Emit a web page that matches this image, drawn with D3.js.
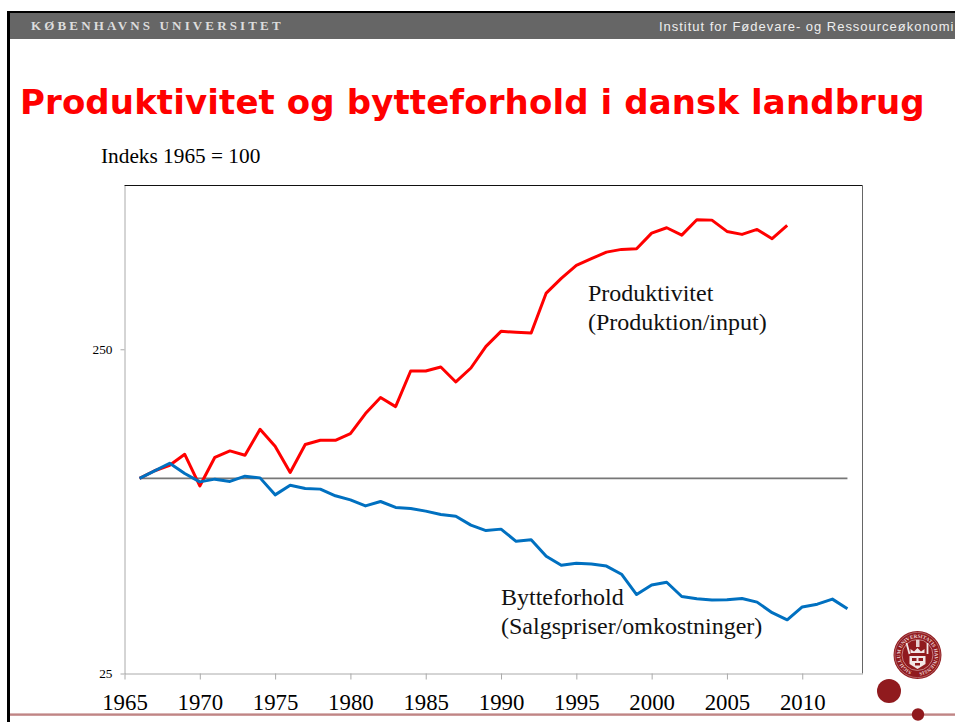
<!DOCTYPE html>
<html><head><meta charset="utf-8">
<script src="https://cdn.jsdelivr.net/npm/d3@7"></script>
<style>html,body{margin:0;padding:0;background:#fff;overflow:hidden}svg{display:block}
.serif{font-family:"Liberation Serif",serif}.sans{font-family:"Liberation Sans",sans-serif}</style>
</head><body><svg id="c" width="955" height="722"></svg>
<script>
const years = d3.range(1966, 2014);
const productivity = [100,105.5,109.7,118.6,94.7,116.1,121.5,117.8,141.7,125.6,104.2,127.1,131,131,137.4,158.4,177.4,166.4,214.3,214.3,220.4,198.2,218.9,255.3,284,282,280.6,372.7,413.7,453.6,475.7,498.5,508.2,510.7,570.5,592.7,562.4,627.4,625.6,577.4,565.3,585.7,548.3,602.5];
const termsOfTrade = [100,105.4,111.3,103.5,97.5,99.4,97.8,101.5,100.3,88.9,95.2,93,92.6,88.3,85.8,82.2,84.8,81.3,80.7,79.2,77.3,76.4,71.7,69,69.7,63.9,64.6,57.5,53.9,54.7,54.4,53.6,50.6,43.8,46.9,47.8,43.2,42.5,42.1,42.2,42.6,41.5,38.5,36.6,40.1,40.9,42.4,39.6];
const baseline = [100,100];
const baselineYears = [1966,2013];
const xTicks = [1965,1970,1975,1980,1985,1990,1995,2000,2005,2010];
const yTicks = [25,250];
const titleText = "Produktivitet og bytteforhold i dansk landbrug";

const svg = d3.select("#c");
const L=124.5,R=862.5,T=185.5,B=673.5;
const x = d3.scaleLinear().domain([1965,2014]).range([L,R]);
const y = d3.scaleLog().domain([25,800]).range([B,T]);

// slide frame
svg.append("rect").attr("x",7).attr("y",11).attr("width",948).attr("height",711).attr("fill","#000");
svg.append("rect").attr("x",10).attr("y",13).attr("width",945).attr("height",709).attr("fill","#fff");
svg.append("rect").attr("x",10).attr("y",13).attr("width",945).attr("height",26).attr("fill","#666");
svg.append("text").attr("class","serif").attr("x",31).attr("y",30).attr("font-size",13).attr("font-weight","bold")
  .attr("letter-spacing",3.14).attr("fill","#ddd").text("KØBENHAVNS UNIVERSITET");
svg.append("text").attr("class","sans").attr("x",659).attr("y",30.5).attr("font-size",13)
  .attr("letter-spacing",0.98).attr("fill","#eee").text("Institut for Fødevare- og Ressourceøkonomi");
svg.append("text").attr("x",20).attr("y",114).attr("font-family","DejaVu Sans").attr("font-weight","bold")
  .attr("font-size",34).attr("letter-spacing",0.11).attr("fill","#f00").text(titleText);
svg.append("text").attr("class","serif").attr("x",101).attr("y",163).attr("font-size",21.3).attr("fill","#000").text("Indeks 1965 = 100");

// plot border
svg.append("line").attr("x1",L).attr("x2",R).attr("y1",T).attr("y2",T).attr("stroke","#111");
svg.append("line").attr("x1",R).attr("x2",R).attr("y1",T).attr("y2",B).attr("stroke","#666");

// axes
const gy = svg.append("g").attr("transform",`translate(${L},0)`)
  .call(d3.axisLeft(y).tickValues(yTicks).tickFormat(d3.format("d")).tickSizeInner(4).tickSizeOuter(0).tickPadding(8));
gy.selectAll("path,line").attr("stroke","#aaa");
gy.selectAll("text").attr("font-size",13.3).attr("font-family","Liberation Serif").attr("fill","#000");
const gx = svg.append("g").attr("transform",`translate(0,${B})`)
  .call(d3.axisBottom(x).tickValues(xTicks).tickFormat(d3.format("d")).tickSizeInner(6).tickSizeOuter(0).tickPadding(14.5));
gx.selectAll("path,line").attr("stroke","#aaa");
gx.selectAll("text").attr("font-size",22.8).attr("font-family","Liberation Serif").attr("fill","#000");

// lines
const line = d3.line().x(d=>x(d[0])).y(d=>y(d[1]));
const series = (vals,yrs)=>vals.map((v,i)=>[yrs[i],v]);
const draw = (d,c,w)=>svg.append("path").datum(d).attr("fill","none").attr("stroke",c).attr("stroke-width",w)
  .attr("stroke-linejoin","round").attr("d",line);
draw(series(baseline,baselineYears),"#777",1.8);
draw(series(productivity,years),"#f00",3);
draw(series(termsOfTrade,years),"#0070c0",3);

// annotations
const note=(t,xp,yp)=>svg.append("text").attr("class","serif").attr("x",xp).attr("y",yp).attr("font-size",24).attr("fill","#111").text(t);
note("Produktivitet",588,301); note("(Produktion/input)",588,330);
note("Bytteforhold",501,605); note("(Salgspriser/omkostninger)",501,634);

// footer rule and logo
const maroon="#901a1e";
svg.append("rect").attr("x",10).attr("y",713.4).attr("width",945).attr("height",2.4).attr("fill","#c08585");
svg.append("circle").attr("cx",918).attr("cy",714.5).attr("r",6.2).attr("fill",maroon);
svg.append("circle").attr("cx",889).attr("cy",691).attr("r",12).attr("fill",maroon);
const seal=svg.append("g").attr("transform","translate(917.5,655)");
seal.append("circle").attr("r",24).attr("fill",maroon);
seal.append("circle").attr("r",22.6).attr("fill","none").attr("stroke","#d8a8a8").attr("stroke-width",.5);
seal.append("circle").attr("r",15.5).attr("fill","none").attr("stroke","#d8a8a8").attr("stroke-width",.7);
seal.append("path").attr("id","ring").attr("fill","none").attr("d",d3.arc()({innerRadius:17.2,outerRadius:17.2,startAngle:-2.8,endAngle:3.4}).split("L")[0]);
seal.append("text").attr("font-family","Liberation Serif").attr("font-size",5.2).attr("font-weight","bold").attr("fill","#ecd2d2")
  .append("textPath").attr("href","#ring").attr("textLength",100).text("SIGILLUM UNIVERSITATIS HAVNIENSIS");
seal.append("path").attr("d",d3.line()([[-8,1],[8,1],[8,9],[0,14],[-8,9]])).attr("fill","#f2e6e6");
seal.append("rect").attr("x",-5.5).attr("y",3).attr("width",4.5).attr("height",3).attr("fill",maroon);
seal.append("rect").attr("x",1).attr("y",3).attr("width",4.5).attr("height",3).attr("fill",maroon);
seal.append("rect").attr("x",-2.5).attr("y",8).attr("width",5).attr("height",2.5).attr("fill",maroon);
seal.append("path").attr("d",d3.line()([[-7,-2],[-7,-6],[-3.5,-3.5],[0,-7],[3.5,-3.5],[7,-6],[7,-2]])).attr("fill","#f2e6e6");
seal.append("rect").attr("x",-1.5).attr("y",-15).attr("width",3.5).attr("height",7).attr("fill","#e6cfcf");
seal.append("line").attr("x1",-11).attr("y1",-12).attr("x2",-8).attr("y2",-1).attr("stroke","#f2e6e6").attr("stroke-width",1.8);
seal.append("line").attr("x1",10).attr("y1",-12).attr("x2",10).attr("y2",-1).attr("stroke","#f2e6e6").attr("stroke-width",1.8);
</script></body></html>
